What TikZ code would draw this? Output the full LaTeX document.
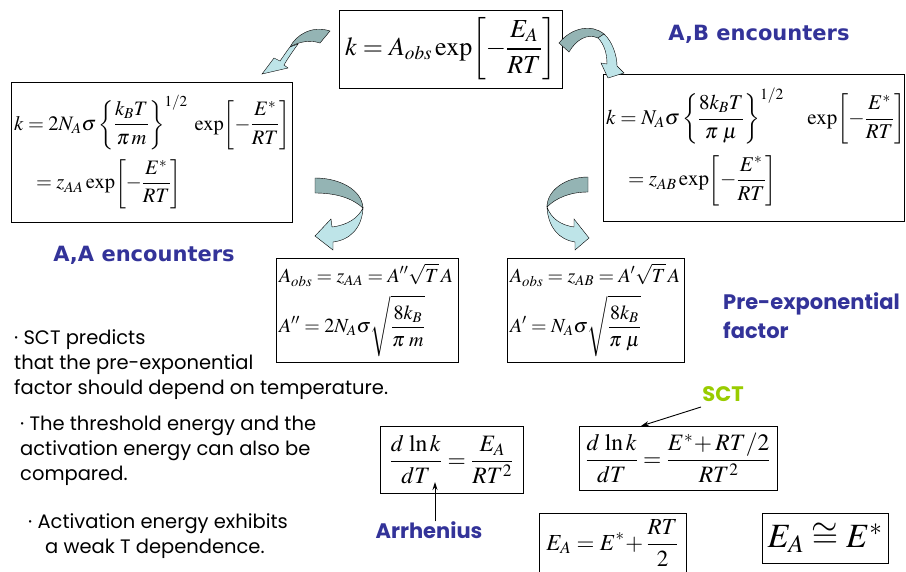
\documentclass[tikz,border=0pt]{standalone}
\usepackage{mathptmx}
\usepackage[no-math]{fontspec}
\usetikzlibrary{arrows.meta}
\newfontfamily\headfont{DejaVu Sans}
\newfontfamily\comicfont{Poppins}
\definecolor{headblue}{HTML}{333399}
\definecolor{sctgreen}{HTML}{99CC00}
\definecolor{ribdark}{HTML}{94B4B4}
\definecolor{riblight}{HTML}{BEE4E8}
\newcommand\nst{\rule[-0.3em]{0pt}{1.05em}}
\newcommand\fr[2]{\frac{\nst #1}{\nst #2}}
\tikzset{
  eqbox/.style={draw=black, line width=0.9pt, inner xsep=3pt, inner ysep=0pt, align=left},
  headtxt/.style={text=headblue, font=\headfont\bfseries\fontsize{21}{25}\selectfont},
  bullet/.style={font=\comicfont\fontsize{19.5}{25}\selectfont, align=left, inner sep=0pt, anchor=north west},
  lbl/.style={font=\comicfont\bfseries\fontsize{21}{29}\selectfont, text=headblue, inner sep=0pt},
  ribd/.style={fill=ribdark, draw=black, line width=0.4pt},
  ribl/.style={fill=riblight, draw=black, line width=0.4pt},
  ptr/.style={-{Stealth[length=8pt,width=5pt]}, line width=0.9pt}
}
\begin{document}
\begin{tikzpicture}[x=1pt,y=-1pt]
\useasboundingbox[fill=white] (0,0) rectangle (906,571);

% top box
\node[eqbox, align=center, text width=217pt, minimum height=78pt, font=\fontsize{26}{30}\selectfont] (top) at (450.5,49)
  {$\displaystyle k = A_{obs}\exp\!\left[-\frac{\rule[-0.2em]{0pt}{0.9em}E_A}{\rule[-0.2em]{0pt}{0.9em}RT}\right]$};

% left box
\node[eqbox, text width=275pt, minimum height=140pt, font=\fontsize{20.5}{24}\selectfont] (aa) at (151.5,152)
  {$\begin{array}{@{}l@{}}
   \displaystyle k = 2N_A\sigma\left\{\fr{k_BT}{\pi\,m}\right\}^{1/2}\;\exp\!\left[-\fr{E^{*}}{RT}\right]\\[22pt]
   \displaystyle \hspace*{22pt}= z_{AA}\exp\!\left[-\fr{E^{*}}{RT}\right]
   \end{array}$};

% right box
\node[eqbox, text width=295pt, minimum height=147pt, font=\fontsize{21}{24}\selectfont] (ab) at (753.5,147.5)
  {$\begin{array}{@{}l@{}}
   \displaystyle k = N_A\sigma\left\{\fr{8k_BT}{\pi\;\mu}\right\}^{1/2}\quad\exp\!\left[-\fr{E^{*}}{RT}\right]\\[24pt]
   \displaystyle \hspace*{22pt}= z_{AB}\exp\!\left[-\fr{E^{*}}{RT}\right]
   \end{array}$};

% middle boxes
\node[eqbox, text width=176pt, minimum height=104pt, font=\fontsize{20}{23}\selectfont] (paa) at (367,310)
  {$\begin{array}{@{}l@{}}
   \displaystyle A_{obs} = z_{AA} = A''\sqrt{T}\,A\\[6pt]
   \displaystyle A'' = 2N_A\sigma\sqrt{\fr{8k_B}{\pi\;m}}
   \end{array}$};
\node[eqbox, text width=171pt, minimum height=104pt, font=\fontsize{20}{23}\selectfont] (pab) at (595.5,310)
  {$\begin{array}{@{}l@{}}
   \displaystyle A_{obs} = z_{AB} = A'\sqrt{T}\,A\\[6pt]
   \displaystyle A' = N_A\sigma\sqrt{\fr{8k_B}{\pi\;\mu}}
   \end{array}$};

% bottom boxes
\node[eqbox, align=center, text width=137pt, minimum height=67pt, font=\fontsize{23.5}{26}\selectfont] (lnka) at (451.5,459.5)
  {$\displaystyle \frac{d\,\ln k}{dT} = \frac{E_A}{RT^{2}}$};
\node[eqbox, align=center, text width=192pt, minimum height=64pt, font=\fontsize{23.5}{26}\selectfont] (lnkb) at (678,458)
  {$\displaystyle \frac{d\,\ln k}{dT} = \frac{E^{*}\!+RT/2}{RT^{2}}$};
\node[eqbox, align=center, text width=141pt, minimum height=60pt, font=\fontsize{23}{26}\selectfont] (ea) at (612.5,543)
  {$\displaystyle E_A = E^{*}\!+\frac{RT}{2}$};
\node[eqbox, align=center, text width=120pt, minimum height=50pt, font=\fontsize{34}{38}\selectfont] (eae) at (825,538)
  {$E_A \cong E^{*}$};

% labels
\node[headtxt] (laa) at (144,255) {A,A encounters};
\node[headtxt] (lab) at (759,34) {A,B encounters};
\node[lbl, align=left, anchor=north west] (pre) at (723,292) {Pre-exponential\\factor};
\node[lbl, text=sctgreen] (sct) at (723,394) {SCT};
\node[lbl] (arr) at (429,530) {Arrhenius};

% bullets
\node[bullet] (b1) at (14,329) {· SCT predicts\\that the pre-exponential\\factor should depend on temperature.};
\node[bullet] (b2) at (20,416) {· The threshold energy and the\\activation energy can also be\\compared.};
\node[bullet] (b3) at (28,513) {· Activation energy exhibits\\\hspace*{17pt}a weak T dependence.};

% pointers
\coordinate (arrtip) at (435,482);
\coordinate (scttail) at (701,407);
\coordinate (scttip) at (641,426);
\draw[ptr] (arr.north -| arrtip) -- (arrtip);
\draw[ptr] (scttail) -- (scttip);

% curved ribbon arrows
% top-left
\filldraw[ribd] (330,31) .. controls (312,25) and (296,35) .. (290,47) .. controls (300,41) and (311,40) .. (320,43) -- cycle;
\filldraw[ribl] (290,47) .. controls (286,52) and (283,57) .. (280,61) -- (274,58) -- (262,74) -- (288,68) -- (284,65) .. controls (288,58) and (293,51) .. (298,44) -- cycle;
% top-right
\filldraw[ribd] (559,43) .. controls (572,27) and (592,24) .. (604,34) -- (598,38) .. controls (587,33) and (576,40) .. (569,52) -- cycle;
\filldraw[ribl] (604,34) .. controls (612,41) and (617,55) .. (617,66) -- (624,73) -- (608,78) -- (601,63) -- (607,64) .. controls (607,53) and (604,44) .. (598,38) -- cycle;
% middle-left
\filldraw[ribd] (315,178) .. controls (340,178) and (362,190) .. (363,208) .. controls (352,198) and (336,193) .. (315,193) -- cycle;
\filldraw[ribl] (363,208) .. controls (362,228) and (350,240) .. (333,242) -- (333,250) -- (315,236) -- (331,219) -- (332,227) .. controls (348,225) and (358,218) .. (363,208) -- cycle;
% middle-right
\filldraw[ribd] (588,177) .. controls (566,177) and (547,190) .. (547,207) .. controls (556,198) and (570,192) .. (588,192) -- cycle;
\filldraw[ribl] (547,207) .. controls (548,228) and (560,240) .. (575,242) -- (575,250) -- (589,238) -- (574,219) -- (574,227) .. controls (560,225) and (551,218) .. (547,207) -- cycle;
\end{tikzpicture}
\end{document}
